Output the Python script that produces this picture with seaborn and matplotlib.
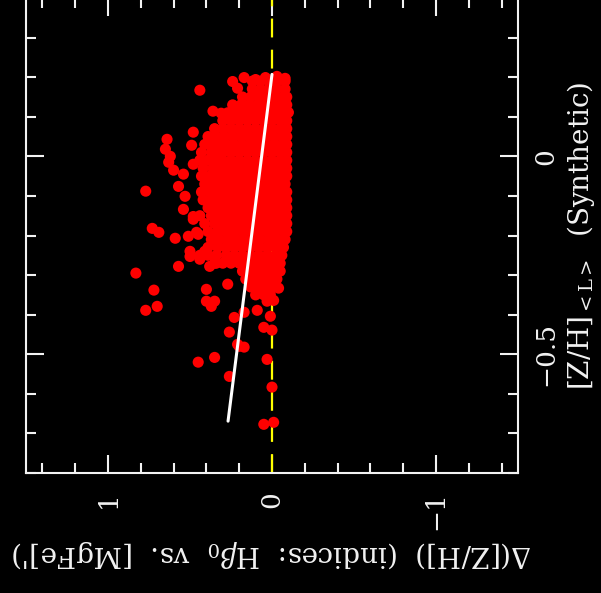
import matplotlib
matplotlib.use("Agg")
import matplotlib.pyplot as plt
from matplotlib.ticker import MultipleLocator
import numpy as np
import pandas as pd
import seaborn as sns

# ---- data (horizontal: Delta([Z/H]); vertical: [Z/H]_<L> synthetic) ----
# isolated / peripheral points
outlier_delta = [0.44, 0.24, 0.21, 0.17, 0.10, 0.04, -0.03, -0.08, -0.10, 0.09,
                 0.36, 0.31, 0.48, 0.49, 0.64, 0.65, 0.62, 0.63, 0.60, 0.54,
                 0.48, 0.57, 0.77, 0.54, 0.73, 0.69, 0.59, 0.51, 0.46, 0.50,
                 0.57, 0.83, 0.72, 0.77, 0.70, 0.40, 0.40, 0.35, 0.37, 0.27,
                 0.23, 0.26, 0.35, 0.45, 0.26, 0.20, 0.17, 0.03, 0.00, 0.05,
                 -0.01, -0.04, 0.01, 0.05, 0.00, 0.09, 0.03, -0.01, 0.44, 0.38,
                 0.34, 0.50, 0.53, 0.48, 0.45, 0.41, 0.36, 0.48, 0.17, 0.21]
outlier_zh = [0.167, 0.189, 0.172, 0.199, 0.194, 0.199, 0.202, 0.197, 0.111, 0.164,
              0.114, 0.109, 0.061, 0.028, 0.043, 0.018, 0.000, -0.015, -0.035, -0.045,
              -0.020, -0.076, -0.088, -0.134, -0.182, -0.192, -0.207, -0.202, -0.192, -0.240,
              -0.278, -0.295, -0.338, -0.389, -0.379, -0.336, -0.366, -0.366, -0.379, -0.323,
              -0.407, -0.444, -0.508, -0.520, -0.556, -0.480, -0.482, -0.513, -0.583, -0.677,
              -0.672, -0.333, -0.404, -0.432, -0.439, -0.389, -0.366, -0.364, -0.260, -0.278,
              -0.270, -0.253, -0.101, -0.152, -0.197, -0.240, -0.210, -0.159, -0.394, -0.475]

# dense core, read row by row: [Z/H] level -> Delta values across the row
core_rows = {
    0.19: [0.12, 0.07, 0.02, -0.03, -0.08],
    0.17: [0.12, 0.07, 0.02, -0.03, -0.08],
    0.15: [0.18, 0.13, 0.08, 0.03, -0.02, -0.07, -0.09],
    0.13: [0.24, 0.19, 0.14, 0.09, 0.04, -0.01, -0.06, -0.09],
    0.11: [0.27, 0.22, 0.17, 0.12, 0.07, 0.02, -0.03, -0.08],
    0.09: [0.30, 0.25, 0.20, 0.15, 0.10, 0.05, 0.00, -0.05, -0.09],
    0.07: [0.35, 0.30, 0.25, 0.20, 0.15, 0.10, 0.05, 0.00, -0.05, -0.09],
    0.05: [0.39, 0.34, 0.29, 0.24, 0.19, 0.14, 0.09, 0.04, -0.01, -0.06, -0.09],
    0.03: [0.41, 0.36, 0.31, 0.28, 0.23, 0.18, 0.13, 0.08, 0.03, -0.02, -0.07, -0.09],
    0.01: [0.43, 0.37, 0.33, 0.30, 0.25, 0.20, 0.15, 0.10, 0.05, 0.00, -0.05, -0.09],
    -0.01: [0.44, 0.39, 0.35, 0.30, 0.25, 0.20, 0.15, 0.10, 0.05, 0.00, -0.05, -0.09],
    -0.03: [0.42, 0.36, 0.32, 0.28, 0.23, 0.18, 0.13, 0.08, 0.03, -0.02, -0.07, -0.09],
    -0.05: [0.43, 0.38, 0.34, 0.30, 0.25, 0.20, 0.15, 0.10, 0.05, 0.00, -0.05, -0.09],
    -0.07: [0.41, 0.37, 0.32, 0.27, 0.22, 0.17, 0.12, 0.07, 0.02, -0.03, -0.08],
    -0.09: [0.43, 0.38, 0.34, 0.30, 0.25, 0.20, 0.15, 0.10, 0.05, 0.00, -0.05, -0.09],
    -0.11: [0.42, 0.37, 0.33, 0.28, 0.23, 0.18, 0.13, 0.08, 0.03, -0.02, -0.07, -0.09],
    -0.13: [0.39, 0.35, 0.30, 0.25, 0.20, 0.15, 0.10, 0.05, 0.00, -0.05, -0.09],
    -0.15: [0.44, 0.37, 0.33, 0.28, 0.23, 0.18, 0.13, 0.08, 0.03, -0.02, -0.07, -0.09],
    -0.17: [0.41, 0.35, 0.30, 0.25, 0.20, 0.15, 0.10, 0.05, 0.00, -0.05, -0.09],
    -0.19: [0.39, 0.33, 0.28, 0.23, 0.18, 0.13, 0.08, 0.03, -0.02, -0.07, -0.09],
    -0.21: [0.37, 0.32, 0.27, 0.22, 0.17, 0.12, 0.07, 0.02, -0.03, -0.08],
    -0.23: [0.39, 0.33, 0.28, 0.23, 0.18, 0.13, 0.08, 0.03, -0.02, -0.07],
    -0.25: [0.44, 0.39, 0.34, 0.28, 0.23, 0.18, 0.13, 0.08, 0.03, -0.02, -0.06],
    -0.27: [0.35, 0.30, 0.25, 0.20, 0.15, 0.10, 0.05, 0.00, -0.05],
    -0.29: [0.18, 0.13, 0.08, 0.03, -0.02, -0.05],
    -0.31: [0.16, 0.11, 0.06, 0.01, -0.03],
    -0.33: [0.13, 0.08, 0.03, -0.01],
    -0.35: [0.10, 0.05, 0.01],
}

# linear fit (white line)
fit_delta = [0.0, 0.268]
fit_zh = [0.207, -0.669]

# axis ticks
delta_ticks = [1, 0, -1]
delta_ticklabels = ["1", "0", "\u22121"]
zh_ticks = [-0.5, 0]
zh_ticklabels = ["\u22120.5", "0"]

# ---- build table ----
pts_delta = list(outlier_delta)
pts_zh = list(outlier_zh)
for zh, row in core_rows.items():
    pts_delta += row
    pts_zh += [zh] * len(row)
df = pd.DataFrame({"delta": pts_delta, "zh": pts_zh})
fit_df = pd.DataFrame({"delta": fit_delta, "zh": fit_zh})

# ---- style ----
sns.set_style("dark")
plt.rcParams["font.family"] = ["DejaVu Serif"]
plt.rcParams["mathtext.fontset"] = "dejavuserif"
fg = "#f2f2f2"

fig = plt.figure(figsize=(6.01, 5.93), dpi=100, facecolor="black")
W, H = 601, 593
ax_l, ax_r, ax_b, ax_t = 26, 518, 473, -2
ax = fig.add_axes([ax_l / W, (H - ax_b) / H, (ax_r - ax_l) / W, (ax_b - ax_t) / H])
ax.set_facecolor("black")
ax.grid(False)

ax.axvline(0, color="#ffff00", lw=1.6, dashes=(8.5, 5.5), zorder=1)
sns.scatterplot(data=df, x="delta", y="zh", ax=ax, color="#ff0000",
                edgecolor="none", s=64, linewidth=0, zorder=2, legend=False)
sns.lineplot(data=fit_df, x="delta", y="zh", ax=ax, color="white", lw=2.2,
             zorder=3, sort=False, estimator=None)

ax.set_xlim(1.5, -1.5)
ax.set_ylim(-0.8, 0.4)

for sp in ax.spines.values():
    sp.set_color(fg)
    sp.set_linewidth(1.5)
    sp.set_visible(True)

ax.set_xticks(delta_ticks)
ax.set_xticklabels(delta_ticklabels, rotation=90, color=fg, fontsize=19)
ax.xaxis.set_minor_locator(MultipleLocator(0.2))
ax.set_yticks(zh_ticks)
ax.yaxis.set_minor_locator(MultipleLocator(0.1))
ax.yaxis.tick_right()
ax.yaxis.set_label_position("right")
ax.set_yticklabels(zh_ticklabels, rotation=90, color=fg, fontsize=19, va="center")

ax.tick_params(which="both", direction="in", colors=fg, top=True, bottom=True,
               left=True, right=True, labelleft=False, labelright=True,
               labeltop=False, labelbottom=True, width=1.5)
ax.tick_params(which="major", length=13)
ax.tick_params(which="minor", length=7)
ax.tick_params(axis="x", which="major", pad=13)
ax.tick_params(axis="y", which="major", pad=11)

ax.set_xlabel(r"$\Delta$([Z/H])  (indices:  H$\beta_0$  vs.  [MgFe]')",
              color=fg, fontsize=20, rotation=180, labelpad=6)
ax.set_ylabel(r"[Z/H]$_{\mathrm{<L>}}$  (Synthetic)", color=fg, fontsize=20,
              rotation=90, labelpad=5)

fig.savefig("out.png", dpi=100, facecolor="black")
